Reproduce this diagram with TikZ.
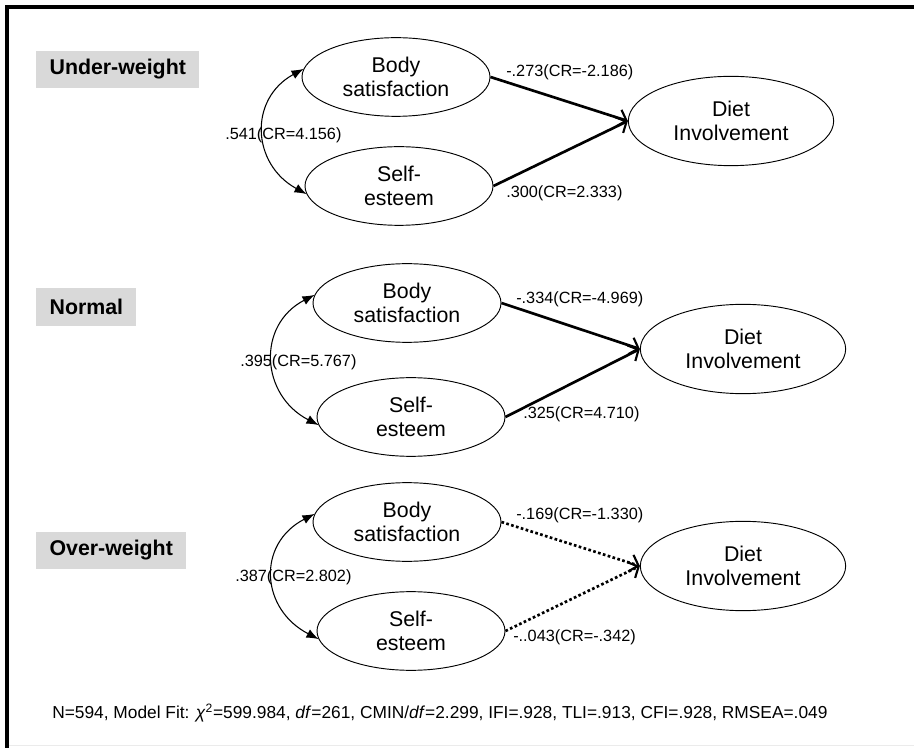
\documentclass[tikz,border=0pt]{standalone}
\usepackage{fontspec}
\setmainfont{Liberation Sans}
\usetikzlibrary{shapes.geometric,arrows.meta}

\tikzset{
  latent/.style={draw,shape=ellipse,inner sep=0pt,line width=0.7pt,align=center,
    minimum width=141pt,minimum height=59pt,font=\fontsize{16}{18.5}\selectfont},
  outcome/.style={latent,minimum width=154pt,minimum height=67pt},
  groupbox/.style={fill=black!15,anchor=west,inner xsep=10pt,inner ysep=0pt,
    minimum height=28pt,font=\fontsize{16}{19}\selectfont\bfseries},
  coef/.style={anchor=west,inner sep=0pt,font=\fontsize{12.2}{14}\selectfont},
  effect/.style={line width=2pt,-{Straight Barb[length=6pt,width=13pt,line width=1.6pt]}},
  nseffect/.style={effect,dash pattern=on 2pt off 1.8pt},
  corr/.style={line width=0.8pt,{Latex[length=9pt,width=7pt]}-{Latex[length=9pt,width=7pt]}}
}

\begin{document}
\begin{tikzpicture}[x=0.75pt,y=-0.75pt]
    \useasboundingbox (0,0) rectangle (914,748);
    % frame
    \draw[line width=2.6pt] (914,7) -- (7,7) -- (7,748);
    \draw[black!8] (9,745.5) -- (914,745.5);

    % under-weight
    \draw (36,69.5) node (G1) [groupbox] {Under-weight};
    \draw (396,77) node (BS1) [latent] {Body\\satisfaction};
    \draw (399,186) node (SE1) [latent] {Self-\\esteem};
    \draw (731,121) node (DI1) [outcome] {Diet\\Involvement};
    \draw[effect] (BS1.east) -- (DI1.west);
    \draw[effect] (SE1.east) -- (DI1.west);
    \draw[corr] (BS1.175) .. controls +(-55,30) and +(-55,-30) .. (SE1.185);
    \draw (506,72) node (C1a) [coef] {-.273(CR=-2.186)};
    \draw (506,193) node (C1b) [coef] {.300(CR=2.333)};
    \draw (225,135) node (R1) [coef] {.541(CR=4.156)};

    % normal
    \draw (36,307) node (G2) [groupbox] {Normal};
    \draw (407,303) node (BS2) [latent] {Body\\satisfaction};
    \draw (411,417) node (SE2) [latent] {Self-\\esteem};
    \draw (743,349) node (DI2) [outcome] {Diet\\Involvement};
    \draw[effect] (BS2.east) -- (DI2.west);
    \draw[effect] (SE2.east) -- (DI2.west);
    \draw[corr] (BS2.175) .. controls +(-58,30) and +(-58,-30) .. (SE2.185);
    \draw (516,299) node (C2a) [coef] {-.334(CR=-4.969)};
    \draw (523,414) node (C2b) [coef] {.325(CR=4.710)};
    \draw (240,362) node (R2) [coef] {.395(CR=5.767)};

    % over-weight
    \draw (36,550.5) node (G3) [groupbox] {Over-weight};
    \draw (407,522) node (BS3) [latent] {Body\\satisfaction};
    \draw (411,631) node (SE3) [latent] {Self-\\esteem};
    \draw (743,566) node (DI3) [outcome] {Diet\\Involvement};
    \draw[nseffect] (BS3.east) -- (DI3.west);
    \draw[nseffect] (SE3.east) -- (DI3.west);
    \draw[corr] (BS3.175) .. controls +(-58,30) and +(-58,-30) .. (SE3.185);
    \draw (516,515) node (C3a) [coef] {-.169(CR=-1.330)};
    \draw (513,637) node (C3b) [coef] {-..043(CR=-.342)};
    \draw (235,577) node (R3) [coef] {.387(CR=2.802)};

    % fit indices
    \draw (52,713) node (FIT) [coef,font=\fontsize{13}{15}\selectfont] {N=594, Model Fit: \textit{χ}\textsuperscript{2}=599.984, \textit{df}=261, CMIN/\textit{df}=2.299, IFI=.928, TLI=.913, CFI=.928, RMSEA=.049};
\end{tikzpicture}
\end{document}
